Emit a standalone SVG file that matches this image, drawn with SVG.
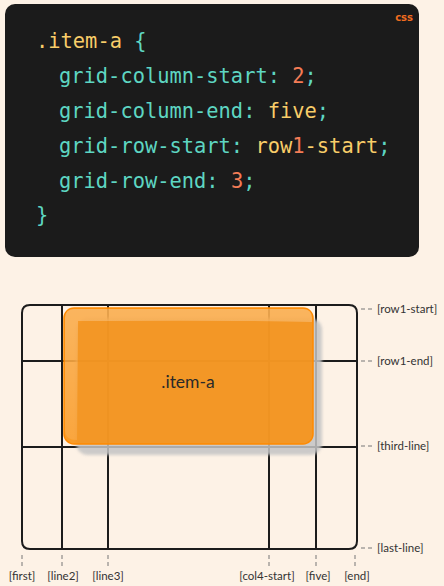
<svg xmlns="http://www.w3.org/2000/svg" width="444" height="586" viewBox="0 0 444 586">
<defs>
<style>
.code{font-family:"DejaVu Sans Mono","Liberation Mono",monospace;font-size:20.4px;}
.t{fill:#5ed6c2;}
.y{fill:#f8cd69;}
.o{fill:#f47c56;}
.gl{stroke:#1c1c1c;stroke-width:2;fill:none;stroke-linecap:round;}
.lbl{font-family:Lato,"Open Sans",sans-serif;font-size:11.5px;fill:#333;}
.dash{stroke:#777;stroke-width:1;stroke-dasharray:4,3;fill:none;}
</style>
<filter id="blur" x="-10%" y="-10%" width="120%" height="120%"><feGaussianBlur stdDeviation="1.5"/></filter>
<linearGradient id="hl" x1="0" y1="0" x2="0" y2="1">
<stop offset="0" stop-color="#ffffff" stop-opacity="0.25"/>
<stop offset="1" stop-color="#ffffff" stop-opacity="0.1"/>
</linearGradient>
</defs>
<rect width="444" height="586" fill="#fdf2e6"/>
<g id="code-block">
<rect x="5" y="4" width="414" height="253" rx="10" fill="#1b1b1b"/>
<text x="413" y="21" text-anchor="end" font-family="'DejaVu Sans','Liberation Sans',sans-serif" font-size="10px" font-weight="bold" fill="#f26d1f">css</text>
<text class="code" x="36" y="48"><tspan class="y">.item-a</tspan><tspan class="t"> {</tspan></text>
<text class="code" x="59" y="83"><tspan class="t">grid-column-start: </tspan><tspan class="o">2</tspan><tspan class="t">;</tspan></text>
<text class="code" x="59" y="118"><tspan class="t">grid-column-end: </tspan><tspan class="y">five</tspan><tspan class="t">;</tspan></text>
<text class="code" x="59" y="153"><tspan class="t">grid-row-start: </tspan><tspan class="y">row</tspan><tspan class="o">1</tspan><tspan class="y">-start</tspan><tspan class="t">;</tspan></text>
<text class="code" x="59" y="188"><tspan class="t">grid-row-end: </tspan><tspan class="o">3</tspan><tspan class="t">;</tspan></text>
<text class="code" x="36" y="222"><tspan class="t">}</tspan></text>
</g>
<g id="grid">
<path d="M30,305 L349,305 Q357,305 357,313 L357,541 Q357,549 349,549 L30,549 Q22,549 22,541 L22,313 Q22,305 30,305 Z" fill="#ffffff" class="gl"/>
<line class="gl" x1="62" y1="305" x2="62" y2="549"/>
<line class="gl" x1="108" y1="305" x2="108" y2="549"/>
<line class="gl" x1="269" y1="305" x2="269" y2="549"/>
<line class="gl" x1="316" y1="305" x2="316" y2="549"/>
<line class="gl" x1="22" y1="361" x2="357" y2="361"/>
<line class="gl" x1="22" y1="447" x2="357" y2="447"/>
</g>
<g id="item-a">
<rect x="76" y="318" width="246" height="137" rx="12" fill="#c4c4c4" opacity="0.85" filter="url(#blur)"/>
<rect x="64" y="308" width="249" height="136" rx="10" fill="#f8900f" fill-opacity="0.88" stroke="#ff8a00" stroke-width="1.5"/>
<path d="M74,309 L303,309 Q312,309 312,318 L312,322 Q250,320 78,321 L77,440 Q65,440 65,430 L65,318 Q65,309 74,309 Z" fill="url(#hl)"/>
<text x="188" y="388" text-anchor="middle" font-family="Lato,'Open Sans',sans-serif" font-size="17.5px" fill="#2a2a2a">.item-a</text>
</g>
<g id="connectors">
<line class="dash" x1="361" y1="309" x2="374" y2="309"/>
<line class="dash" x1="361" y1="361" x2="374" y2="361"/>
<line class="dash" x1="361" y1="446" x2="374" y2="446"/>
<line class="dash" x1="361" y1="548" x2="374" y2="548"/>
<line class="dash" x1="22" y1="555" x2="22" y2="569"/>
<line class="dash" x1="62" y1="555" x2="62" y2="569"/>
<line class="dash" x1="108" y1="555" x2="108" y2="569"/>
<line class="dash" x1="269" y1="555" x2="269" y2="569"/>
<line class="dash" x1="316" y1="555" x2="316" y2="569"/>
<line class="dash" x1="355" y1="555" x2="355" y2="569"/>
</g>
<g id="row-labels">
<text class="lbl" x="377" y="313">[row1-start]</text>
<text class="lbl" x="377" y="365">[row1-end]</text>
<text class="lbl" x="377" y="450">[third-line]</text>
<text class="lbl" x="377" y="552">[last-line]</text>
</g>
<g id="col-labels">
<text class="lbl" x="22" y="580" text-anchor="middle">[first]</text>
<text class="lbl" x="63" y="580" text-anchor="middle">[line2]</text>
<text class="lbl" x="108" y="580" text-anchor="middle">[line3]</text>
<text class="lbl" x="267" y="580" text-anchor="middle">[col4-start]</text>
<text class="lbl" x="318" y="580" text-anchor="middle">[five]</text>
<text class="lbl" x="357" y="580" text-anchor="middle">[end]</text>
</g>
</svg>
